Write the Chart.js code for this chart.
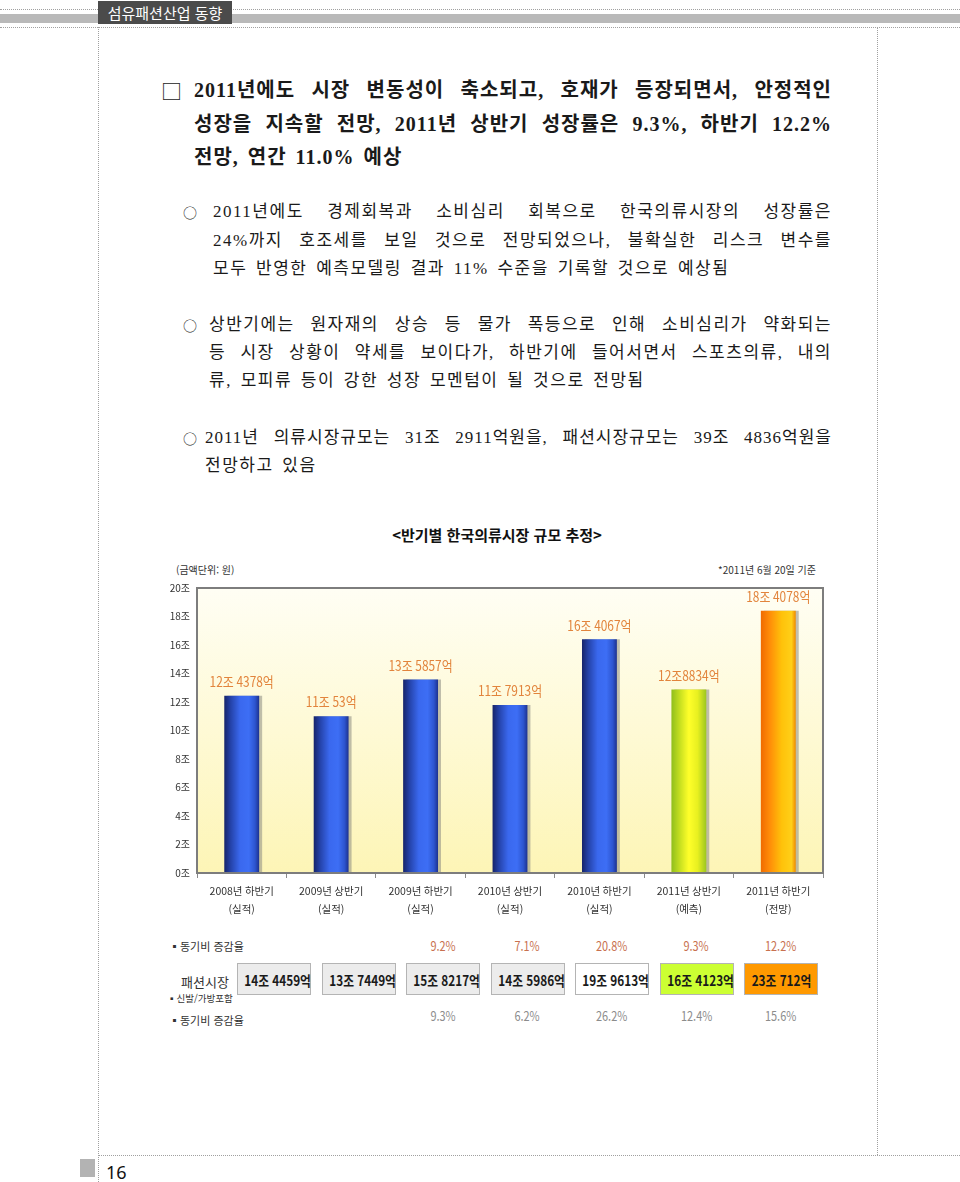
<!DOCTYPE html>
<html lang="ko">
<head>
<meta charset="utf-8">
<script src="https://cdn.jsdelivr.net/npm/chart.js@4.4.1/dist/chart.umd.min.js"></script>
<style>
html, body { margin: 0; padding: 0; background: #fff; }
body { width: 960px; height: 1182px; position: relative; overflow: hidden; font-family: "Noto Sans CJK KR", sans-serif; color: #222; }
.dotH { position: absolute; height: 0; border-top: 1px dotted #a0a0a0; }
.dotV { position: absolute; width: 0; border-left: 1px dotted #a0a0a0; }
.txt { position: absolute; height: 26px; line-height: 26px; font-family: "Liberation Serif", "Noto Sans CJK KR", serif; color: #1a1a1a; white-space: nowrap; }
.full { white-space: normal; text-align: justify; text-align-last: justify; }
.big { font-size: 20px; font-weight: bold; letter-spacing: 1px; }
.mid { font-size: 17px; letter-spacing: 1.5px; }
.mark { position: absolute; line-height: 26px; height: 26px; color: #222; }
.note { position: absolute; font-size: 10px; color: #333; line-height: 14px; white-space: nowrap; }
.box { position: absolute; top: 963px; height: 32px; line-height: 32px; border: 1px solid #b4b4b4; text-align: center; font-size: 14px; font-weight: 600; color: #1a1a1a; box-sizing: border-box; white-space: nowrap; }
.box span, .pct span { display: inline-block; transform: scaleX(0.84); }
.pct { position: absolute; width: 70px; text-align: center; font-size: 13px; line-height: 18px; white-space: nowrap; }
</style>
</head>
<body>

<!-- page header -->
<div class="dotH" style="left:0;top:9px;width:960px;"></div>
<div style="position:absolute;left:0;top:14px;width:960px;height:9px;background:#b9b9b9;"></div>
<div class="dotH" style="left:0;top:27px;width:960px;"></div>
<div style="position:absolute;left:98px;top:1px;width:134px;height:23px;background:#4b4b4b;color:#fff;font-size:15px;line-height:23px;text-align:center;">섬유패션산업 동향</div>
<div class="dotV" style="left:98px;top:27px;height:1155px;"></div>
<div class="dotV" style="left:877px;top:27px;height:1128px;"></div>

<!-- headline -->
<div class="mark" style="left:161px;top:77px;font-size:21px;">□</div>
<div class="txt big full" style="left:194px;top:77px;width:638px;">2011년에도 시장 변동성이 축소되고, 호재가 등장되면서, 안정적인</div>
<div class="txt big full" style="left:194px;top:111px;width:638px;">성장을 지속할 전망, 2011년 상반기 성장률은 9.3%, 하반기 12.2%</div>
<div class="txt big" style="left:194px;top:144px;word-spacing:3px;">전망, 연간 11.0% 예상</div>

<!-- bullets -->
<div class="mark" style="left:183px;top:199px;font-size:14px;">○</div>
<div class="txt mid full" style="left:213px;top:199px;width:619px;">2011년에도 경제회복과 소비심리 회복으로 한국의류시장의 성장률은</div>
<div class="txt mid full" style="left:213px;top:228px;width:619px;">24%까지 호조세를 보일 것으로 전망되었으나, 불확실한 리스크 변수를</div>
<div class="txt mid" style="left:213px;top:256px;word-spacing:3px;">모두 반영한 예측모델링 결과 11% 수준을 기록할 것으로 예상됨</div>

<div class="mark" style="left:183px;top:312px;font-size:14px;">○</div>
<div class="txt mid full" style="left:209px;top:312px;width:623px;">상반기에는 원자재의 상승 등 물가 폭등으로 인해 소비심리가 약화되는</div>
<div class="txt mid full" style="left:209px;top:340px;width:623px;">등 시장 상황이 약세를 보이다가, 하반기에 들어서면서 스포츠의류, 내의</div>
<div class="txt mid" style="left:209px;top:368px;word-spacing:3px;">류, 모피류 등이 강한 성장 모멘텀이 될 것으로 전망됨</div>

<div class="mark" style="left:183px;top:425px;font-size:14px;">○</div>
<div class="txt mid full" style="left:205px;top:425px;width:627px;letter-spacing:1px;">2011년 의류시장규모는 31조 2911억원을, 패션시장규모는 39조 4836억원을</div>
<div class="txt mid" style="left:205px;top:453px;word-spacing:3px;">전망하고 있음</div>

<!-- chart -->
<div style="position:absolute;left:0;top:523px;width:994px;text-align:center;font-size:15px;font-weight:bold;line-height:24px;color:#111;">&lt;반기별 한국의류시장 규모 추정&gt;</div>
<div class="note" style="left:176px;top:563px;">(금액단위: 원)</div>
<div class="note" style="left:640px;top:563px;width:176px;text-align:right;">*2011년 6월 20일 기준</div>
<div style="position:absolute;left:150px;top:575px;width:700px;height:360px;">
  <canvas id="bar-chartcanvas" width="700" height="360"></canvas>
</div>

<!-- fashion market table -->
<div id="table-area"></div>

<!-- page footer -->
<div class="dotH" style="left:98px;top:1155px;width:862px;"></div>
<div style="position:absolute;left:80px;top:1159px;width:15px;height:18px;background:#b3b3b3;"></div>
<div style="position:absolute;left:106px;top:1160px;font-size:18px;line-height:24px;color:#111;font-family:'Noto Sans','DejaVu Sans',sans-serif;">16</div>

<script>
    //half-year periods and their status
    var periods = ['2008년 하반기', '2009년 상반기', '2009년 하반기', '2010년 상반기', '2010년 하반기', '2011년 상반기', '2011년 하반기'];
    var periodTypes = ['(실적)', '(실적)', '(실적)', '(실적)', '(실적)', '(예측)', '(전망)'];

    //clothing market size (조 원)
    var clothingMarket = [12.4378, 11.0053, 13.5857, 11.7913, 16.4067, 12.8834, 18.4078];
    var clothingLabels = ['12조 4378억', '11조 53억', '13조 5857억', '11조 7913억', '16조 4067억', '12조8834억', '18조 4078억'];
    var clothingGrowth = ['', '', '9.2%', '7.1%', '20.8%', '9.3%', '12.2%'];

    //fashion market (incl. shoes / bags)
    var fashionMarket = ['14조 4459억', '13조 7449억', '15조 8217억', '14조 5986억', '19조 9613억', '16조 4123억', '23조 712억'];
    var fashionGrowth = ['', '', '9.3%', '6.2%', '26.2%', '12.4%', '15.6%'];

    //y axis ticks
    var yTicks = [0, 2, 4, 6, 8, 10, 12, 14, 16, 18, 20];

    //bar tones
    var barTones = ['blue', 'blue', 'blue', 'blue', 'blue', 'lime', 'orange'];
    var toneStops = {
        blue: [[0, '#16246a'], [0.18, '#2442a8'], [0.45, '#3a68ee'], [0.7, '#3d6ef5'], [0.88, '#2d55d0'], [1, '#1d3290']],
        lime: [[0, '#8fbe1c'], [0.25, '#c8e020'], [0.5, '#ffff2a'], [0.75, '#e8f020'], [1, '#9cc620']],
        orange: [[0, '#f06a00'], [0.25, '#ff8c08'], [0.6, '#ffc20a'], [0.88, '#ffcf18'], [1, '#ee8a00']]
    };
    var boxFills = ['#ececec', '#ececec', '#ececec', '#ececec', '#ffffff', '#ccff33', '#ff9900'];

    var barShare = 0.39;

    //gradient fill for each bar, built from the x scale
    function barFill(context) {
        var chart = context.chart;
        var area = chart.chartArea;
        var tone = barTones[context.dataIndex] || 'blue';
        var stops = toneStops[tone];
        if (!area || context.dataIndex === undefined) return stops[2][1];
        var xScale = chart.scales.x;
        var cx = xScale.getPixelForValue(context.dataIndex);
        var w = (area.right - area.left) / periods.length * barShare;
        var g = chart.ctx.createLinearGradient(cx - w / 2, 0, cx + w / 2, 0);
        stops.forEach(function (s) { g.addColorStop(s[0], s[1]); });
        return g;
    }

    //plot background and frame
    var plotFrame = {
        id: 'plotFrame',
        beforeDraw: function (chart) {
            var a = chart.chartArea, c = chart.ctx;
            var g = c.createLinearGradient(0, a.top, 0, a.bottom);
            g.addColorStop(0, '#fffef4');
            g.addColorStop(1, '#fdf5b6');
            c.save();
            c.fillStyle = g;
            c.fillRect(a.left, a.top, a.right - a.left, a.bottom - a.top);
            c.restore();
        },
        beforeDatasetDraw: function (chart) {
            var c = chart.ctx;
            c.save();
            c.shadowColor = 'rgba(140,140,130,0.55)';
            c.shadowOffsetX = 3;
            c.shadowOffsetY = 0;
            c.shadowBlur = 0;
        },
        afterDatasetDraw: function (chart) {
            chart.ctx.restore();
        },
        afterDatasetsDraw: function (chart) {
            var a = chart.chartArea, c = chart.ctx;
            var meta = chart.getDatasetMeta(0);
            c.save();
            //value labels above bars
            c.font = '14px "Noto Sans CJK KR"';
            c.fillStyle = '#e2843c';
            c.textAlign = 'center';
            c.textBaseline = 'middle';
            meta.data.forEach(function (bar, i) {
                c.save();
                c.translate(bar.x, bar.y - 14);
                c.scale(0.85, 1);
                c.fillText(clothingLabels[i], 0, 0);
                c.restore();
            });
            //frame
            c.strokeStyle = '#7d7d7d';
            c.lineWidth = 2;
            c.strokeRect(a.left, a.top, a.right - a.left, a.bottom - a.top);
            c.restore();
        }
    };

    var ctx = document.getElementById('bar-chartcanvas');

    //bar chart data
    var data = {
        labels: periods.map(function (p, i) { return [p, periodTypes[i]]; }),
        datasets: [{
            data: clothingMarket,
            backgroundColor: barFill,
            borderWidth: 0,
            categoryPercentage: 1,
            barPercentage: barShare
        }]
    };

    //options
    var options = {
        responsive: false,
        animation: false,
        layout: { padding: { top: 13, right: 27, left: 0, bottom: 0 } },
        plugins: {
            legend: { display: false },
            tooltip: { enabled: false }
        },
        scales: {
            x: {
                grid: { display: true, offset: true, drawOnChartArea: false, drawTicks: true, tickLength: 5, color: '#8a8a8a' },
                border: { display: false },
                ticks: {
                    color: '#333',
                    padding: 4,
                    maxRotation: 0,
                    font: { family: '"Noto Sans CJK KR"', size: 10.5, lineHeight: 1.7 }
                },
                afterFit: function (scale) { scale.height = 62; }
            },
            y: {
                min: 0,
                max: 20,
                grid: { display: false, drawTicks: false },
                border: { display: false },
                afterBuildTicks: function (scale) {
                    scale.ticks = yTicks.map(function (v) { return { value: v }; });
                },
                ticks: {
                    color: '#333',
                    padding: 7,
                    font: { family: '"Noto Sans CJK KR"', size: 10 },
                    callback: function (v) { return v + '조'; }
                },
                afterFit: function (scale) { scale.width = 47; }
            }
        }
    };

    //create Chart class object
    var chart = new Chart(ctx, {
        type: 'bar',
        data: data,
        options: options,
        plugins: [plotFrame]
    });

    //table under the chart
    var area = document.getElementById('table-area');
    var html = '';
    html += '<div class="note" style="left:169px;top:939px;font-size:11px;">▪동기비 증감율</div>';
    html += '<div class="note" style="left:181px;top:973px;font-size:13px;line-height:18px;">패션시장</div>';
    html += '<div class="note" style="left:167px;top:991px;font-size:9.5px;">▪신발/가방포함</div>';
    html += '<div class="note" style="left:169px;top:1013px;font-size:11px;">▪동기비 증감율</div>';
    fashionMarket.forEach(function (v, i) {
        var left = 237 + i * 84.5;
        html += '<div class="box" style="left:' + left + 'px;width:74px;background:' + boxFills[i] + ';"><span>' + v + '</span></div>';
        if (clothingGrowth[i]) {
            html += '<div class="pct" style="left:' + (left + 2) + 'px;top:937px;color:#c8714f;"><span>' + clothingGrowth[i] + '</span></div>';
        }
        if (fashionGrowth[i]) {
            html += '<div class="pct" style="left:' + (left + 2) + 'px;top:1007px;color:#8c8c8c;"><span>' + fashionGrowth[i] + '</span></div>';
        }
    });
    area.innerHTML = html;
</script>
</body>
</html>
